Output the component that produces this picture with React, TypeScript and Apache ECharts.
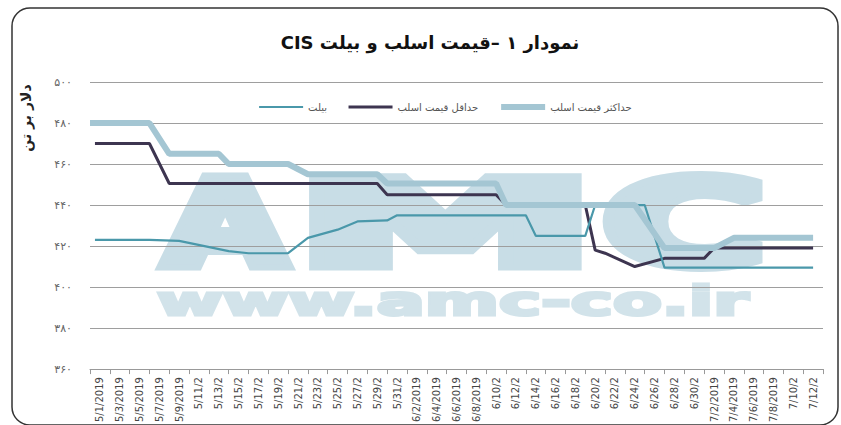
import React, { useEffect, useRef } from "react";
import * as echarts from "echarts";

const titleText = "نمودار ۱ –قیمت اسلب و بیلت CIS";
const yAxisTitle = "دلار بر تن";
const seriesNames = ["حداکثر قیمت اسلب", "حداقل قیمت اسلب", "بیلت"];

const dateLabels = [
  "5/1/2019", "5/3/2019", "5/5/2019", "5/7/2019", "5/9/2019",
  "5/11/2", "5/13/2", "5/15/2", "5/17/2", "5/19/2", "5/21/2", "5/23/2",
  "5/25/2", "5/27/2", "5/29/2", "5/31/2",
  "6/2/2019", "6/4/2019", "6/6/2019", "6/8/2019",
  "6/10/2", "6/12/2", "6/14/2", "6/16/2", "6/18/2", "6/20/2", "6/22/2",
  "6/24/2", "6/26/2", "6/28/2", "6/30/2",
  "7/2/2019", "7/4/2019", "7/6/2019", "7/8/2019", "7/10/2", "7/12/2",
];

const yTicks = [360, 380, 400, 420, 440, 460, 480, 500];
const yTickLabels = ["۳۶۰", "۳۸۰", "۴۰۰", "۴۲۰", "۴۴۰", "۴۶۰", "۴۸۰", "۵۰۰"];

// day offsets from 5/1/2019 and prices ($/t)
const maxDays = [-1, 5, 7, 12, 13, 19, 21, 28, 29, 40, 41, 54, 57, 62, 64, 72];
const maxVals = [480, 480, 465, 465, 460, 460, 455, 455, 450.5, 450.5, 440, 440, 419, 419, 424, 424];

const minDays = [-0.5, 5, 7, 28, 29, 40, 41, 49, 50, 51, 54, 57, 61, 62, 72];
const minVals = [470, 470, 450.5, 450.5, 445, 445, 440, 440, 418, 416.5, 410, 414, 414, 419, 419];

const billetDays = [-0.5, 5, 8, 13, 15, 19, 21, 24, 26, 29, 30, 43, 44, 49, 50, 55, 57, 72];
const billetVals = [423, 423, 422.5, 417.5, 416.5, 416.5, 424, 428, 432, 432.5, 435, 435, 425, 425, 440, 440, 409.5, 409.5];

const pairs = (xs: number[], ys: number[]) => xs.map((x, i) => [x, ys[i]]);

const FONT = "DejaVu Sans";
const WM = "#c8dde6";
const WM2 = "#d2e3ea";
const C_MAX = "#a4c6d3";
const C_MIN = "#3d3550";
const C_BIL = "#4a98aa";

const wmLetter = (text: string, x: number, scaleX: number) => ({
  type: "text",
  z: -10,
  silent: true,
  x,
  y: 224,
  scaleX,
  style: {
    text,
    fontFamily: FONT,
    fontWeight: "bold",
    fontSize: 117,
    fill: WM,
    stroke: WM,
    lineWidth: 12,
    align: "left",
    verticalAlign: "middle",
  },
});

export default function App() {
  const ref = useRef<HTMLDivElement>(null);
  useEffect(() => {
    if (!ref.current) return;
    const chart = echarts.init(ref.current, undefined, { renderer: "svg" });
    chart.setOption({
      animation: false,
      backgroundColor: "#ffffff",
      textStyle: { fontFamily: FONT },
      grid: { left: 90, right: 18, top: 82, height: 289 },
      legend: {
        data: [
          { name: seriesNames[2], lineStyle: { width: 2.2, color: C_BIL } },
          { name: seriesNames[1], lineStyle: { width: 3, color: C_MIN } },
          { name: seriesNames[0], lineStyle: { width: 6, color: C_MAX } },
        ],
        left: 253,
        top: 97,
        itemWidth: 44,
        itemHeight: 8,
        itemGap: 20,
        itemStyle: { opacity: 0 },
        textStyle: { fontSize: 10, color: "#555", fontFamily: FONT },
      },
      xAxis: [
        {
          type: "category",
          data: dateLabels,
          boundaryGap: true,
          axisLine: { lineStyle: { color: "#999", width: 1 } },
          axisTick: { show: true, interval: 0, length: 5, lineStyle: { color: "#999" } },
          axisLabel: {
            interval: 0,
            rotate: 90,
            fontSize: 10,
            color: "#444",
            margin: 8,
            fontFamily: FONT,
          },
          splitLine: { show: false },
        },
        {
          type: "value",
          min: -1,
          max: 73,
          show: false,
        },
      ],
      yAxis: {
        type: "value",
        min: 360,
        max: 500,
        interval: 20,
        axisLine: { show: false },
        axisTick: { show: false },
        axisLabel: {
          fontSize: 11,
          color: "#666",
          margin: 18,
          fontFamily: FONT,
          formatter: (v: number) => yTickLabels[yTicks.indexOf(v)] ?? "",
        },
        splitLine: { lineStyle: { color: "#9e9e9e", width: 1 } },
      },
      series: [
        {
          name: seriesNames[1],
          type: "line",
          xAxisIndex: 1,
          data: pairs(minDays, minVals),
          showSymbol: false,
          symbol: "none",
          lineStyle: { color: C_MIN, width: 3 },
          itemStyle: { color: C_MIN },
        },
        {
          name: seriesNames[2],
          type: "line",
          xAxisIndex: 1,
          data: pairs(billetDays, billetVals),
          showSymbol: false,
          symbol: "none",
          lineStyle: { color: C_BIL, width: 2.2 },
          itemStyle: { color: C_BIL },
        },
        {
          name: seriesNames[0],
          type: "line",
          xAxisIndex: 1,
          data: pairs(maxDays, maxVals),
          showSymbol: false,
          symbol: "none",
          lineStyle: { color: C_MAX, width: 6 },
          itemStyle: { color: C_MAX },
        },
      ],
      graphic: [
        {
          type: "rect",
          z: 100,
          silent: true,
          shape: { x: 12, y: 8, width: 826, height: 417, r: 18 },
          style: { fill: "none", stroke: "#333", lineWidth: 1.5 },
        },
        {
          type: "text",
          z: 100,
          x: 430,
          y: 42,
          style: {
            text: "\u202B" + titleText + "\u202C",
            fontFamily: FONT,
            fontWeight: "bold",
            fontSize: 18,
            fill: "#111",
            align: "center",
            verticalAlign: "middle",
          },
        },
        {
          type: "text",
          z: 100,
          x: 26,
          y: 118,
          rotation: Math.PI / 2,
          style: {
            text: yAxisTitle,
            fontFamily: FONT,
            fontWeight: "bold",
            fontSize: 14,
            fill: "#222",
            align: "center",
            verticalAlign: "middle",
          },
        },
        wmLetter("A", 165, 1.33),
        wmLetter("M", 297, 2.55),
        wmLetter("C", 603, 1.89),
        {
          type: "text",
          z: -10,
          silent: true,
          x: 157,
          y: 301,
          scaleX: 1.78,
          style: {
            text: "www.amc-co.ir",
            fontFamily: FONT,
            fontWeight: "bold",
            fontSize: 40,
            fill: WM2,
            stroke: WM2,
            lineWidth: 3,
            align: "left",
            verticalAlign: "middle",
          },
        },
      ],
    });
    return () => chart.dispose();
  }, []);
  return (
    <div
      ref={ref}
      style={{ position: "absolute", left: 0, top: 0, width: 841, height: 425 }}
    />
  );
}
